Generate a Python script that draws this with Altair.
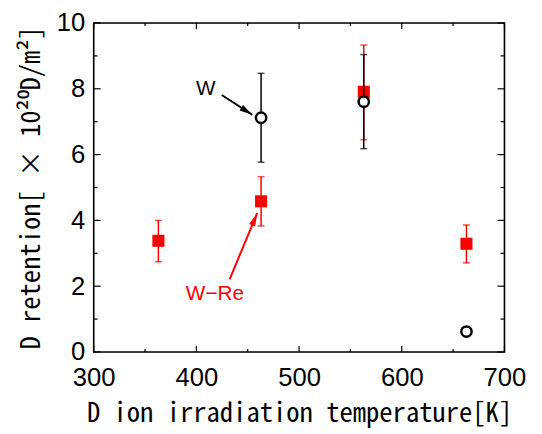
import altair as alt
import pandas as pd

# ---- data ----
wre_temp = [363, 463, 563, 663]
wre_val = [3.38, 4.58, 7.91, 3.29]
wre_hi = [4.00, 5.33, 9.33, 3.86]
wre_lo = [2.74, 3.83, 6.45, 2.71]

w_temp = [463, 563, 663]
w_val = [7.12, 7.61, 0.62]
w_err_temp = [463, 563]
w_hi = [8.47, 9.04]
w_lo = [5.77, 6.18]

x_major = [300, 400, 500, 600, 700]
x_minor = [350, 450, 550, 650]
y_major = [0, 2, 4, 6, 8, 10]
y_minor = [1, 3, 5, 7, 9]

# annotations: label, text position, arrow tail, arrow head, colour
ann_label = ["W", "W\u2212Re"]
ann_tx = [409.0, 418.0]
ann_ty = [7.98, 1.76]
ann_x0 = [424.7, 432.4]
ann_y0 = [7.81, 2.21]
ann_x1 = [454.4, 459.2]
ann_y1 = [7.21, 4.22]
ann_angle = [122.8, 22.7]
ann_color = ["black", "#ff0000"]

W, H = 417, 334
RED = "#ff0000"

wre = pd.DataFrame({"t": wre_temp, "v": wre_val, "hi": wre_hi, "lo": wre_lo})
w = pd.DataFrame({"t": w_temp, "v": w_val})
werr = pd.DataFrame({"t": w_err_temp, "hi": w_hi, "lo": w_lo})
ann = pd.DataFrame({"label": ann_label, "tx": ann_tx, "ty": ann_ty,
                    "x0": ann_x0, "y0": ann_y0, "x1": ann_x1, "y1": ann_y1,
                    "angle": ann_angle, "color": ann_color})

xs = alt.Scale(domain=[300, 700], nice=False, zero=False)
ys = alt.Scale(domain=[0, 10], nice=False, zero=True)

TICK_FONT = "Liberation Sans"
TITLE_FONT = "Noto Sans Mono CJK JP, Noto Sans CJK JP"

xaxis = alt.Axis(values=x_major, format="d", ticks=False, domain=False, grid=False,
                 labelFontSize=26, labelFont=TICK_FONT, labelColor="black",
                 labelFlush=False, labelPadding=13,
                 title="D ion irradiation temperature[K]", titleFont=TITLE_FONT,
                 titleFontSize=27, titleFontWeight="normal", titleColor="black",
                 titlePadding=11)
yaxis = alt.Axis(values=y_major, format="d", ticks=False, domain=False, grid=False,
                 labelFontSize=26, labelFont=TICK_FONT, labelColor="black",
                 labelFlush=False, labelPadding=9,
                 title="D retention[ \u00d7 10\u00b2\u2070D/m\u00b2]", titleFont=TITLE_FONT,
                 titleFontSize=27, titleFontWeight="normal", titleColor="black",
                 titlePadding=11)

X = lambda f: alt.X(f, type="quantitative", scale=xs)
Y = lambda f: alt.Y(f, type="quantitative", scale=ys)

base_pts = alt.Chart(wre).mark_rule(color=RED, strokeWidth=1.5).encode(
    x=alt.X("t:Q", scale=xs, axis=xaxis),
    y=alt.Y("lo:Q", scale=ys, axis=yaxis),
    y2="hi:Q",
)
wre_caps_hi = alt.Chart(wre).mark_tick(color=RED, orient="horizontal", size=7, thickness=1.5).encode(
    x=X("t"), y=Y("hi"))
wre_caps_lo = alt.Chart(wre).mark_tick(color=RED, orient="horizontal", size=7, thickness=1.5).encode(
    x=X("t"), y=Y("lo"))
wre_pts = alt.Chart(wre).mark_point(shape="square", filled=True, size=150, color=RED, opacity=1).encode(
    x=X("t"), y=Y("v"))

w_bars = alt.Chart(werr).mark_rule(color="black", strokeWidth=1.5).encode(
    x=X("t"), y=Y("lo"), y2="hi:Q")
w_caps_hi = alt.Chart(werr).mark_tick(color="black", orient="horizontal", size=7, thickness=1.5).encode(
    x=X("t"), y=Y("hi"))
w_caps_lo = alt.Chart(werr).mark_tick(color="black", orient="horizontal", size=7, thickness=1.5).encode(
    x=X("t"), y=Y("lo"))
w_pts = alt.Chart(w).mark_point(shape="circle", filled=False, fill="white", fillOpacity=1,
                                size=110, stroke="black", strokeWidth=2.5, opacity=1).encode(
    x=X("t"), y=Y("v"))

shafts = alt.Chart(ann).mark_rule(strokeWidth=2).encode(
    x=X("x0"), y=Y("y0"), x2="x1:Q", y2="y1:Q",
    color=alt.Color("color:N", scale=None))
heads = alt.Chart(ann).mark_point(shape="M0,0L-0.55,2.2L0.55,2.2Z", filled=True, size=144, opacity=1).encode(
    x=X("x1"), y=Y("y1"), angle=alt.Angle("angle:Q", scale=None),
    color=alt.Color("color:N", scale=None))
labels = alt.Chart(ann).mark_text(font=TICK_FONT, fontSize=21, align="center", baseline="middle").encode(
    x=X("tx"), y=Y("ty"), text="label:N",
    color=alt.Color("color:N", scale=None))

xmaj = pd.DataFrame({"v": x_major})
xmin = pd.DataFrame({"v": x_minor})
ymaj = pd.DataFrame({"v": y_major})
ymin = pd.DataFrame({"v": y_minor})

def xticks(df, length):
    b = alt.Chart(df).mark_rule(color="black", strokeWidth=1.2).encode(
        x=X("v"), y=alt.value(H), y2=alt.value(H - length))
    t = alt.Chart(df).mark_rule(color="black", strokeWidth=1.2).encode(
        x=X("v"), y=alt.value(0), y2=alt.value(length))
    return [b, t]

def yticks(df, length):
    l = alt.Chart(df).mark_rule(color="black", strokeWidth=1.2).encode(
        y=Y("v"), x=alt.value(0), x2=alt.value(length))
    r = alt.Chart(df).mark_rule(color="black", strokeWidth=1.2).encode(
        y=Y("v"), x=alt.value(W), x2=alt.value(W - length))
    return [l, r]

tick_layers = xticks(xmaj, 6) + xticks(xmin, 3) + yticks(ymaj, 7) + yticks(ymin, 4)

frame = alt.Chart(pd.DataFrame({"f": [0]})).mark_rect(
    fill=None, fillOpacity=0, stroke="black", strokeWidth=1.6
).encode(x=alt.value(0), x2=alt.value(W), y=alt.value(0), y2=alt.value(H))

chart = alt.layer(
    base_pts, wre_caps_hi, wre_caps_lo, wre_pts,
    w_bars, w_caps_hi, w_caps_lo, w_pts,
    shafts, heads, labels,
    *tick_layers, frame,
).properties(
    width=W, height=H,
    autosize=alt.AutoSizeParams(type="none"),
    padding={"left": 87, "top": 12, "right": 30, "bottom": 78},
).configure_view(
    stroke=None
).configure(background="white")

chart.save("out.html", embed_options={"renderer": "svg", "actions": False})
